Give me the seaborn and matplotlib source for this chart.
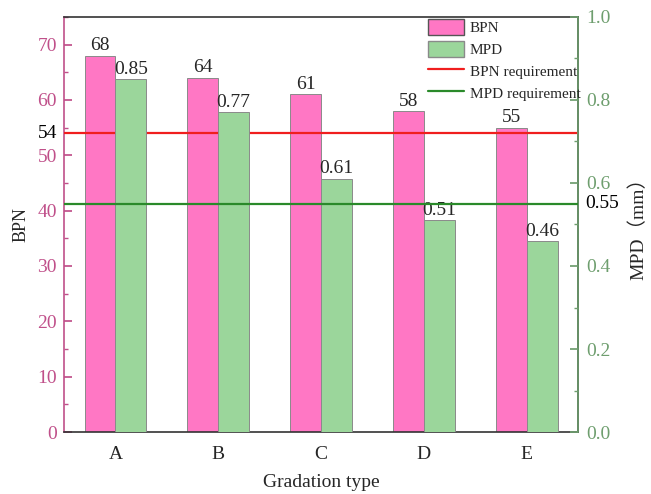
import numpy as np
import pandas as pd
import matplotlib
matplotlib.use("Agg")
import matplotlib.pyplot as plt
from matplotlib.ticker import MultipleLocator
from matplotlib.patches import Patch
from matplotlib.lines import Line2D
import seaborn as sns

sns.set_theme(style="white")
plt.rcParams["font.family"] = ["Liberation Serif", "Noto Sans CJK SC"]

gradation = ["A", "B", "C", "D", "E"]
bpn = [68, 64, 61, 58, 55]
mpd = [0.85, 0.77, 0.61, 0.51, 0.46]
bpn_req = 54
mpd_req = 0.55

pink = "#FF77C4"
green = "#9BD69B"
pink_axis = "#C0508A"
green_axis = "#6E9E6E"
red_line = "#F01E1E"
green_line = "#2A8A2A"

df = pd.DataFrame({
    "Gradation": gradation * 2,
    "metric": ["BPN"] * 5 + ["MPD"] * 5,
    "bpn": bpn + [np.nan] * 5,
    "mpd": [np.nan] * 5 + mpd,
})

fig = plt.figure(figsize=(6.51, 4.94), dpi=100)
ax = fig.add_axes([0.0983, 0.1255, 0.7897, 0.8401])
ax2 = ax.twinx()

bar_kw = dict(hue="metric", hue_order=["BPN", "MPD"], palette=[pink, green],
              width=0.6, legend=False, edgecolor="#8a8a8a", linewidth=0.7,
              errorbar=None, saturation=1)
sns.barplot(data=df, x="Gradation", y="bpn", ax=ax, **bar_kw)
sns.barplot(data=df, x="Gradation", y="mpd", ax=ax2, **bar_kw)

ax.set_xlim(-0.5, 4.5)
ax.set_ylim(0, 75)
ax2.set_ylim(0, 1.0)

for axis in (ax, ax2):
    for c in axis.containers:
        if len(c) and not np.isnan(c.datavalues).all():
            axis.bar_label(c, labels=[f"{v:g}" for v in c.datavalues],
                           padding=1, fontsize=14)

ax.axhline(bpn_req, color=red_line, lw=1.6, zorder=5)
ax2.axhline(mpd_req, color=green_line, lw=1.6, zorder=5)

# Left axis (BPN)
ax.yaxis.set_major_locator(MultipleLocator(10))
ax.yaxis.set_minor_locator(MultipleLocator(5))
ax.tick_params(axis="y", which="both", direction="in", colors=pink_axis,
               labelsize=14, pad=5)
ax.tick_params(axis="y", which="major", length=6)
ax.tick_params(axis="y", which="minor", length=3)
ax.tick_params(axis="x", length=0, labelsize=14, pad=10)
ax.spines["left"].set_color(pink_axis)
ax.spines["top"].set_color("#333333")
ax.spines["bottom"].set_color("#333333")
for s in ax.spines.values():
    s.set_linewidth(1.2)
ax.text(-0.014, bpn_req, str(bpn_req), transform=ax.get_yaxis_transform(),
        ha="right", va="center", fontsize=14, color="black")

# Right axis (MPD)
ax2.yaxis.set_major_locator(MultipleLocator(0.2))
ax2.yaxis.set_minor_locator(MultipleLocator(0.1))
ax2.tick_params(axis="y", which="both", direction="in", colors=green_axis,
                labelsize=14, pad=6)
ax2.tick_params(axis="y", which="major", length=6)
ax2.tick_params(axis="y", which="minor", length=3)
ax2.spines["right"].set_color(green_axis)
ax2.spines["right"].set_linewidth(1.2)
for side in ["left", "top", "bottom"]:
    ax2.spines[side].set_visible(False)
ax2.text(1.014, mpd_req, f"{mpd_req:g}", transform=ax2.get_yaxis_transform(),
         ha="left", va="center", fontsize=14, color="black")

ax.set_xlabel("Gradation type", fontsize=14, labelpad=8)
ax.set_ylabel("BPN", fontsize=13, labelpad=6)
ax2.set_ylabel("MPD（mm）", fontsize=14, labelpad=13)

handles = [
    Patch(facecolor=pink, edgecolor="#555555", label="BPN"),
    Patch(facecolor=green, edgecolor="#8a8a8a", label="MPD"),
    Line2D([], [], color=red_line, lw=1.6, label="BPN requirement"),
    Line2D([], [], color=green_line, lw=1.6, label="MPD requirement"),
]
ax2.legend(handles=handles, loc="upper left", bbox_to_anchor=(0.688, 1.022),
           frameon=False, fontsize=11, handlelength=2.3, handleheight=1.3,
           labelspacing=0.35, borderpad=0.2, handletextpad=0.4)

fig.savefig("out.png", dpi=100)
